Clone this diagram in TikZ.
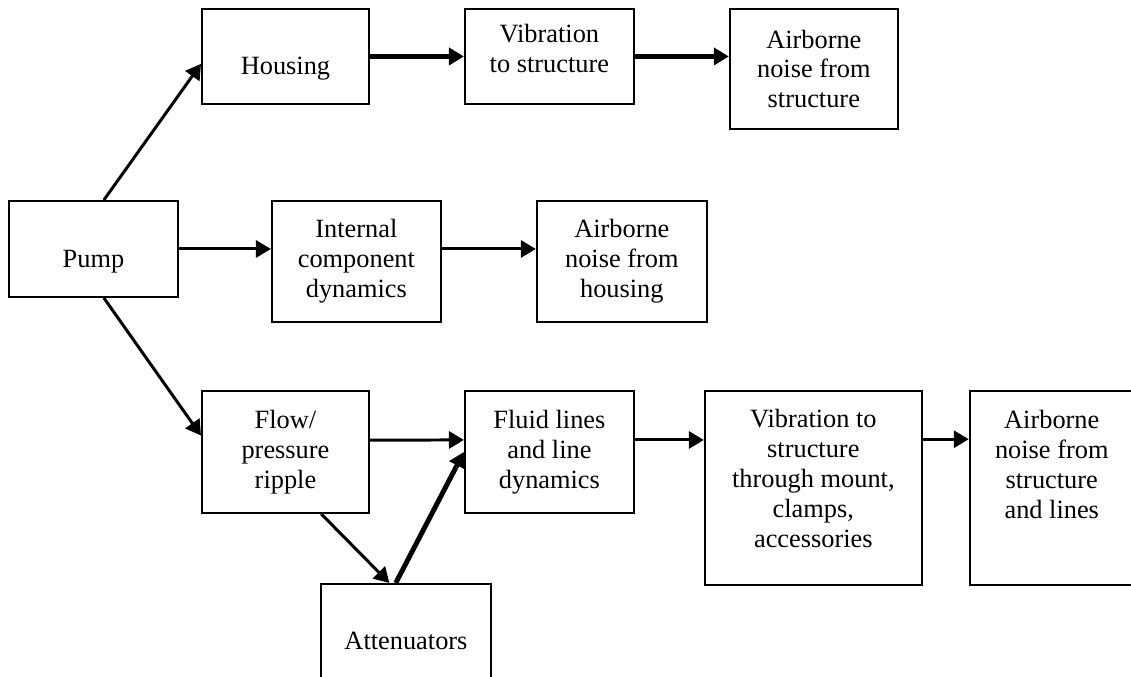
\documentclass[tikz,border=0pt]{standalone}
\usepackage{fontspec}
\setmainfont{Liberation Serif}
\usetikzlibrary{positioning}
\usetikzlibrary{arrows.meta}

\begin{document}
\begin{tikzpicture}[>={Triangle[length=0.3cm,width=0.34cm]},line width=1.7pt,
                    main node/.style={rectangle,draw,line width=1.1pt,align=center,inner sep=2pt,
                                      font=\fontsize{15}{17}\selectfont},
                    heavy/.style={line width=2.8pt}]
      \useasboundingbox (0,0) rectangle (22.62,-13.54);

      \node[main node, anchor=north west, minimum width=3.38cm, minimum height=1.92cm,
            text height=21pt, text depth=0pt] (1) at (0.16,-4.00) {Pump};

      % top row
      \node[main node, anchor=north west, minimum width=3.34cm, minimum height=1.90cm,
            text height=21pt, text depth=0pt] (2) at (4.02,-0.16) {Housing};
      \node[main node, right=1.88cm of 2.north east, anchor=north west,
            minimum width=3.38cm, minimum height=1.90cm] (3) {Vibration\\to structure\\[-8pt]\mbox{}};
      \node[main node, right=1.88cm of 3.north east, anchor=north west,
            minimum width=3.36cm, minimum height=2.40cm] (4) {Airborne\\noise from\\structure};

      % middle row
      \node[main node, right=1.84cm of 1.north east, anchor=north west,
            minimum width=3.38cm, minimum height=2.42cm] (5) {Internal\\component\\dynamics};
      \node[main node, right=1.88cm of 5.north east, anchor=north west,
            minimum width=3.40cm, minimum height=2.42cm] (6) {Airborne\\noise from\\housing};

      % bottom row
      \node[main node, anchor=north west, minimum width=3.34cm, minimum height=2.44cm]
            (7) at (4.02,-7.80) {Flow/\\pressure\\ripple};
      \node[main node, right=1.88cm of 7.north east, anchor=north west,
            minimum width=3.38cm, minimum height=2.44cm] (8) {Fluid lines\\and line\\dynamics};
      \node[main node, anchor=north west, minimum width=3.40cm, minimum height=2.28cm]
            (9) at (6.40,-11.66) {Attenuators};
      \node[main node, right=1.38cm of 8.north east, anchor=north west,
            minimum width=4.34cm, minimum height=3.88cm]
            (10) {Vibration to\\structure\\through mount,\\clamps,\\accessories\\[-6pt]\mbox{}};
      \node[main node, right=0.92cm of 10.north east, anchor=north west,
            minimum width=3.28cm, minimum height=3.88cm]
            (11) {Airborne\\noise from\\structure\\and lines\\[10pt]\mbox{}};

      \path[->]
	(1.78) edge (2.185)
	(1.east) edge (1.east -| 5.west)
	(1.282) edge (7.169)
	(1.east -| 5.east) edge (1.east -| 6.west);
      \path[->, heavy]
	(2.east) edge (3.west)
	(3.east) edge (3.east -| 4.west);
      \path[->]
	(7.8) edge (8.172)
	(7.300) edge (9.106)
	(8.8) edge (8.8 -| 10.west)
	(10.24) edge (10.24 -| 11.west);
      \path[->, heavy]
	(9.100) edge (8.west);
\end{tikzpicture}
\end{document}
